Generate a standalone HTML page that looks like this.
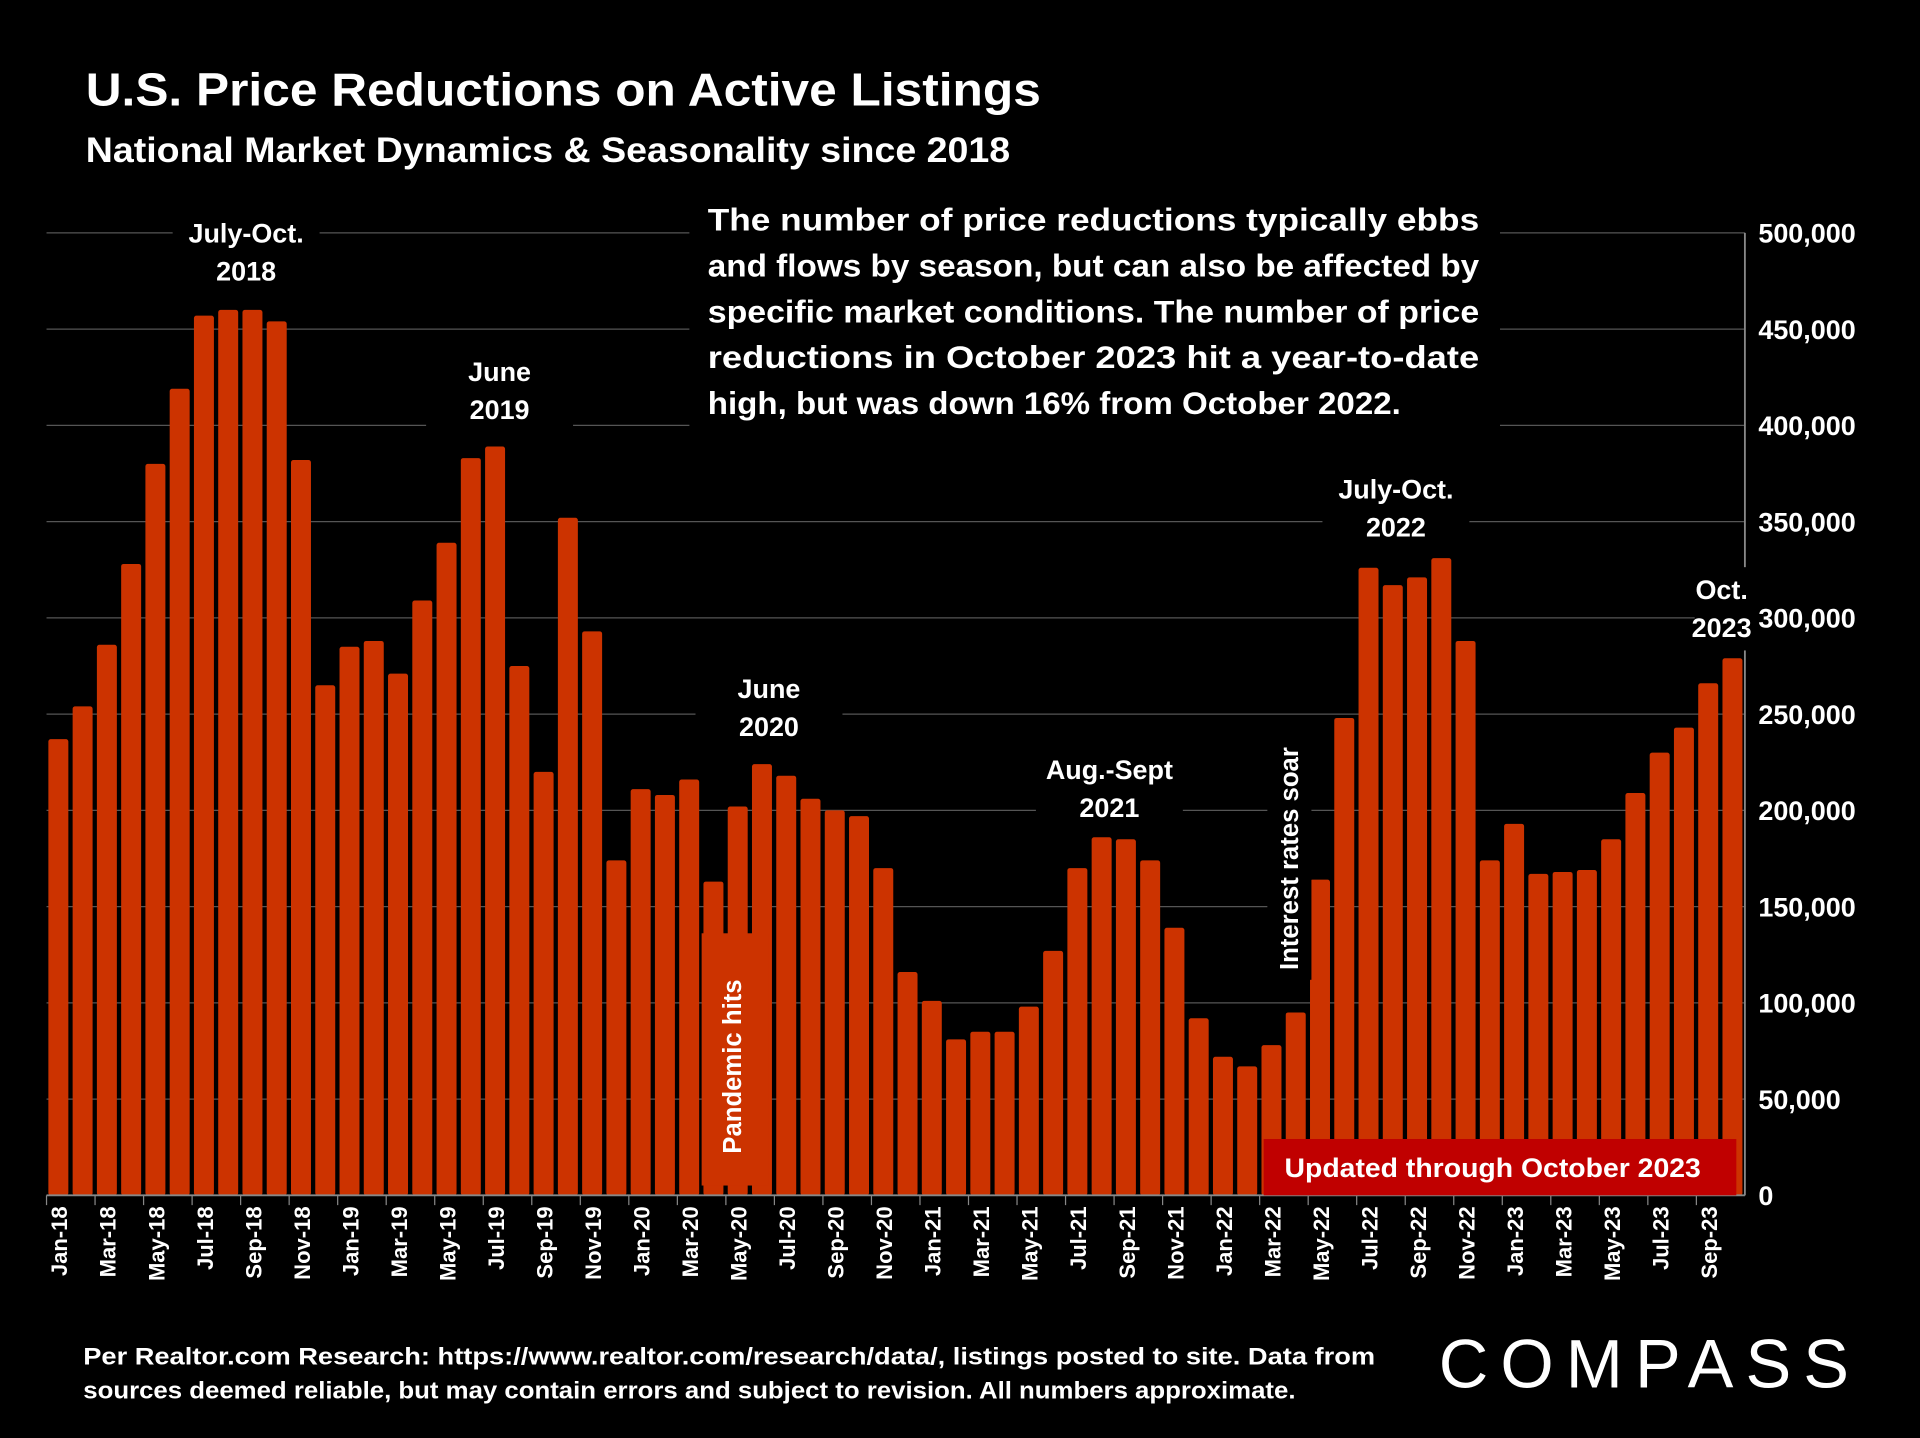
<!DOCTYPE html>
<html><head><meta charset="utf-8"><style>
html,body{margin:0;padding:0;background:#000;}
svg{display:block;}
text{font-family:"Liberation Sans",sans-serif;fill:#fff;font-weight:bold;}
</style></head><body>
<svg id="chart" width="1920" height="1438" viewBox="0 0 1568 1174" xmlns="http://www.w3.org/2000/svg">
<rect width="1568" height="1174" fill="#000"/>
<text x="70" y="86" font-size="38" textLength="780" lengthAdjust="spacingAndGlyphs">U.S. Price Reductions on Active Listings</text>
<text x="70" y="132" font-size="29" textLength="755" lengthAdjust="spacingAndGlyphs">National Market Dynamics &amp; Seasonality since 2018</text>
<g id="grid"></g>
<g id="bars"></g>
<g id="xaxis"></g>
<g id="yaxis"></g>
<g id="notes"></g>
<text x="68" y="1114" font-size="20" textLength="1055" lengthAdjust="spacingAndGlyphs">Per Realtor.com Research:  https://www.realtor.com/research/data/, listings posted to site. Data from</text>
<text x="68" y="1142" font-size="20" textLength="990" lengthAdjust="spacingAndGlyphs">sources deemed reliable, but may contain errors and subject to revision. All numbers approximate.</text>
<text x="1175" y="1133" font-size="56" style="font-weight:normal" textLength="335" lengthAdjust="spacing">COMPASS</text>
</svg>
<script>
const months=["Jan","Feb","Mar","Apr","May","Jun","Jul","Aug","Sep","Oct","Nov","Dec"];
const categories=[];
for(let y=18;y<=23;y++)for(let m=0;m<12;m++){if(y===23&&m>9)break;categories.push(months[m]+"-"+y);}
const values=[237000,254000,286000,328000,380000,419000,457000,460000,460000,454000,382000,265000,
285000,288000,271000,309000,339000,383000,389000,275000,220000,352000,293000,174000,
211000,208000,216000,163000,202000,224000,218000,206000,200000,197000,170000,116000,
101000,81000,85000,85000,98000,127000,170000,186000,185000,174000,139000,92000,
72000,67000,78000,95000,164000,248000,326000,317000,321000,331000,288000,174000,
193000,167000,168000,169000,185000,209000,230000,243000,266000,279000];
const yTicks=[0,50000,100000,150000,200000,250000,300000,350000,400000,450000,500000];
const NS="http://www.w3.org/2000/svg";
const x0=38,x1=1425,y0=976,yTop=190,maxV=500000;
const band=(x1-x0)/categories.length;
const xs=i=>x0+band*i;
const ys=v=>y0-(v/maxV)*(y0-yTop);
function mk(tag,attrs,parent,txt){const e=document.createElementNS(NS,tag);for(const k in attrs)e.setAttribute(k,attrs[k]);if(txt!==undefined)e.textContent=txt;document.getElementById(parent).appendChild(e);return e;}
yTicks.forEach(t=>{
  const l=mk("line",{x1:x0,x2:x1,y1:ys(t),y2:ys(t),stroke:"#555","stroke-width":1},"grid");
  
  
});
const ax=mk("line",{x1:x1,x2:x1,y1:yTop,y2:y0,stroke:"#888","stroke-width":1.5},"yaxis");


values.forEach((v,i)=>{
  const r=mk("rect",{x:xs(i)+1.5,y:ys(v),width:band-3.5,height:y0-ys(v),fill:"#cc3300",rx:2},"bars");
  
  
});
const bl=mk("line",{x1:x0,x2:x1,y1:y0,y2:y0,stroke:"#888","stroke-width":1.5},"xaxis");


categories.forEach((c,i)=>{
  if(i%2===0){
    const tk=mk("line",{x1:xs(i),x2:xs(i),y1:y0,y2:y0+8,stroke:"#888"},"xaxis");
    
    
    const cx=xs(i)+band/2+7;
    const t=mk("text",{x:cx,y:985,"font-size":18,"text-anchor":"end",transform:`rotate(-90 ${cx} 985)`},"xaxis",c);
    
    
  }
});
// annotations
function lbl(lines,x,y,name,w){
  w=w||120;
  const bg=mk("rect",{x:x-w/2,y:y-26,width:w,height:lines.length*31+6,fill:"#000"},"notes");
  
  
  lines.forEach((s,k)=>{const t=mk("text",{x:x,y:y+k*31,"font-size":22,"text-anchor":"middle"},"notes",s);
  
  });
}
lbl(["July-Oct.","2018"],201,198,"annotation-2018");
lbl(["June","2019"],408,311,"annotation-2019");
lbl(["June","2020"],628,570,"annotation-2020");
lbl(["Aug.-Sept","2021"],906,636,"annotation-2021");
lbl(["July-Oct.","2022"],1140,407,"annotation-2022");
lbl(["Oct.","2023"],1406,489,"annotation-2023",44);
yTicks.forEach(t=>{
  const tx=mk("text",{x:1436,y:ys(t)+8,"font-size":22,"font-weight":"normal"},"yaxis",t===0?"0":t.toLocaleString("en-US"));
  
  
});
const tb=mk("rect",{x:563,y:160,width:662,height:200,fill:"#000"},"notes");


["The number of price reductions typically ebbs","and flows by season, but can also be affected by","specific market conditions. The number of price","reductions in October 2023 hit a year-to-date","high, but was down 16% from October 2022."].forEach((s,k)=>{
  const t=mk("text",{x:578,y:188+k*37.5,"font-size":26,textLength:k<4?630:566,lengthAdjust:"spacingAndGlyphs"},"notes",s);
  
  
});
const ib=mk("rect",{x:1035,y:588,width:36,height:212,fill:"#000"},"notes");


const it=mk("text",{x:1060,y:792,"font-size":21,transform:"rotate(-90 1060 792)"},"notes","Interest rates soar");


const pb=mk("rect",{x:573,y:762,width:55,height:206,fill:"#cc3300"},"notes");


const pt=mk("text",{x:605,y:942,"font-size":21,transform:"rotate(-90 605 942)"},"notes","Pandemic hits");


const ub=mk("rect",{x:1032,y:930,width:386,height:46,fill:"#c00000"},"notes");


const ut=mk("text",{x:1219,y:961,"font-size":22,"text-anchor":"middle",textLength:340,lengthAdjust:"spacingAndGlyphs"},"notes","Updated through October 2023");


</script>
</body></html>
